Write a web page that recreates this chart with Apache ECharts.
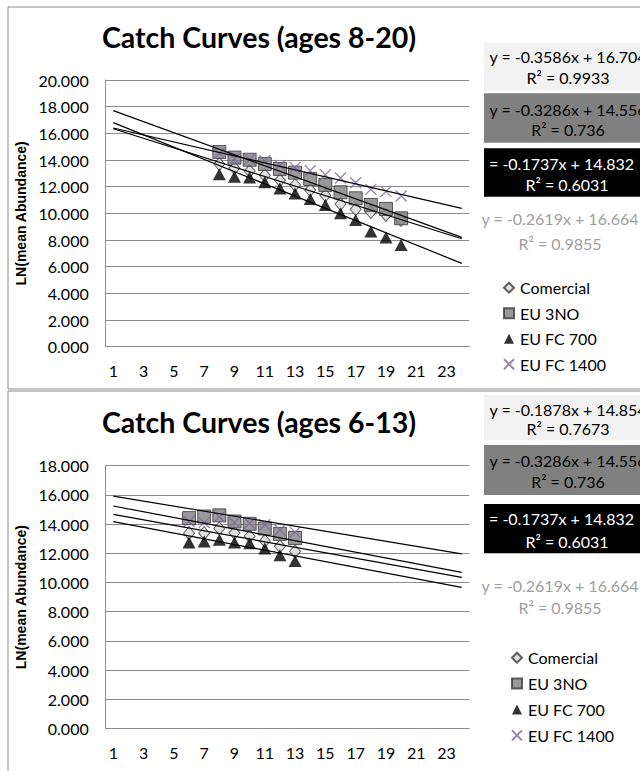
<!DOCTYPE html>
<html>
<head>
<meta charset="utf-8">
<script src="https://cdn.jsdelivr.net/npm/echarts@6/dist/echarts.min.js"></script>
<style>
html, body { margin: 0; padding: 0; background: #ffffff; }
#chart { width: 640px; height: 771px; }
</style>
</head>
<body>
<div id="chart"></div>
<script>
// Category axis: age classes 1..24
const xCategories = ['1','2','3','4','5','6','7','8','9','10','11','12','13','14','15','16','17','18','19','20','21','22','23','24'];
const seriesNames = ['Comercial', 'EU 3NO', 'EU FC 700', 'EU FC 1400'];

// Upper panel: ages 8-20, LN(mean abundance)
const agesTop = [8, 9, 10, 11, 12, 13, 14, 15, 16, 17, 18, 19, 20];
const comercialTop = [13.70, 13.40, 13.17, 12.85, 12.48, 12.13, 11.75, 11.35, 10.70, 10.30, 10.10, 9.88, 9.50];
const eu3noTop     = [14.60, 14.18, 14.02, 13.70, 13.33, 13.05, 12.58, 12.13, 11.58, 11.13, 10.63, 10.33, 9.63];
const fc700Top     = [12.93, 12.74, 12.68, 12.33, 11.86, 11.48, 11.08, 10.63, 10.00, 9.50, 8.63, 8.18, 7.63];
const fc1400Top    = [14.50, 14.10, 14.05, 13.95, 13.60, 13.45, 13.20, 12.90, 12.65, 12.30, 11.80, 11.65, 11.30];

// Lower panel: ages 6-13
const agesBottom = [6, 7, 8, 9, 10, 11, 12, 13];
const comercialBottom = [13.38, 13.38, 13.70, 13.40, 13.17, 12.85, 12.48, 12.13];
const eu3noBottom     = [14.41, 14.52, 14.60, 14.18, 14.02, 13.70, 13.33, 13.05];
const fc700Bottom     = [12.74, 12.81, 12.93, 12.74, 12.68, 12.33, 11.86, 11.48];
const fc1400Bottom    = [14.18, 14.10, 14.50, 14.10, 14.05, 13.95, 13.60, 13.45];

// Linear trendlines (slope, intercept), same order as seriesNames
const trendSlopesTop = [-0.3586, -0.4130, -0.4587, -0.2619];
const trendInterceptsTop = [16.704, 18.113, 17.259, 16.664];
const trendSlopesBottom = [-0.1878, -0.1974, -0.1957, -0.1720];
const trendInterceptsBottom = [14.854, 15.437, 14.366, 16.090];
const trendFrom = 1;
const trendTo = 24;

// Equation labels
const equationsTop = [
  ['y = -0.3586x + 16.704', 'R² = 0.9933'],
  ['y = -0.3286x + 14.556', 'R² = 0.736'],
  ['= -0.1737x + 14.832', 'R² = 0.6031'],
  ['y = -0.2619x + 16.664', 'R² = 0.9855']
];
const equationsBottom = [
  ['y = -0.1878x + 14.854', 'R² = 0.7673'],
  ['y = -0.3286x + 14.556', 'R² = 0.736'],
  ['= -0.1737x + 14.832', 'R² = 0.6031'],
  ['y = -0.2619x + 16.664', 'R² = 0.9855']
];

const titles = ['Catch Curves (ages 8-20)', 'Catch Curves (ages 6-13)'];
const yAxisName = 'LN(mean Abundance)';

const FONT = 'Lato, "Open Sans", sans-serif';
const GRID_COLOR = '#8c8c8c';
const TEXT_SIZE = 16;

const markerStyles = [
  { symbol: 'diamond', symbolSize: [11, 13], itemStyle: { color: '#d9d9d9', borderColor: '#3a3a3a', borderWidth: 1 } },
  { symbol: 'rect', symbolSize: 13, itemStyle: { color: '#808080', borderColor: '#3a3a3a', borderWidth: 1 } },
  { symbol: 'triangle', symbolSize: [13, 12], itemStyle: { color: '#000000' } },
  { symbol: 'path://M0,0L10,10M10,0L0,10', symbolSize: 11, itemStyle: { color: '#8064a2', borderColor: '#8064a2', borderWidth: 1.3 } }
];

function scatterSeries(panel, ages, valueLists) {
  return valueLists.map((vals, k) => Object.assign({
    name: seriesNames[k],
    type: 'scatter',
    xAxisIndex: panel,
    yAxisIndex: panel,
    data: ages.map((a, i) => [String(a), vals[i]]),
    z: 2 + k,
    animation: false
  }, markerStyles[k]));
}

function trendSeries(panel, slopes, intercepts) {
  return slopes.map((s, k) => ({
    name: seriesNames[k] + ' trend',
    type: 'line',
    xAxisIndex: panel,
    yAxisIndex: panel,
    data: [[String(trendFrom), s * trendFrom + intercepts[k]], [String(trendTo), s * trendTo + intercepts[k]]],
    symbol: 'none',
    silent: true,
    z: 10,
    lineStyle: { color: '#000000', width: 1.2 },
    animation: false
  }));
}

function equationGraphics(rows, boxes) {
  const fills = ['#f2f2f2', '#808080', '#000000', null];
  const textColors = ['#000000', '#000000', '#ffffff', '#a0a0a0'];
  const out = [];
  rows.forEach((r, k) => {
    const b = boxes[k];
    if (fills[k]) {
      out.push({ type: 'rect', shape: { x: 484, y: b.top, width: 170, height: b.h }, style: { fill: fills[k] }, z: 1 });
    }
    out.push({ type: 'text', x: b.lx != null ? b.lx : b.cx, y: b.l1,
      style: { text: r[0], fill: textColors[k], font: TEXT_SIZE + 'px ' + FONT, textAlign: b.lx != null ? 'left' : 'center', textVerticalAlign: 'middle' }, z: 2 });
    out.push({ type: 'text', x: b.cx, y: b.l2,
      style: { text: r[1], fill: textColors[k], font: TEXT_SIZE + 'px ' + FONT, textAlign: 'center', textVerticalAlign: 'middle' }, z: 2 });
  });
  return out;
}

const boxesTop = [
  { top: 42.7, h: 48, cx: 568, l1: 56.7, l2: 77.7 },
  { top: 93.3, h: 49.4, cx: 568, l1: 109, l2: 129.3 },
  { top: 148.3, h: 48.4, cx: 567, lx: 489, l1: 163.3, l2: 184.3 },
  { top: 0, h: 0, cx: 560, l1: 218.3, l2: 243.3 }
];
const boxesBottom = [
  { top: 395, h: 45, cx: 568, l1: 409.3, l2: 428.3 },
  { top: 445, h: 50, cx: 568, l1: 460, l2: 481.7 },
  { top: 504, h: 49.3, cx: 567, lx: 489, l1: 518.3, l2: 541.7 },
  { top: 0, h: 0, cx: 560, l1: 585, l2: 607.7 }
];

function yAxis(panel, max) {
  return {
    type: 'value', gridIndex: panel, min: 0, max: max, interval: 2,
    name: yAxisName, nameLocation: 'middle', nameGap: 71,
    nameTextStyle: { fontFamily: '"Liberation Sans", Arial, sans-serif', fontWeight: 'bold', fontSize: 14, color: '#000' },
    axisLine: { show: true, lineStyle: { color: GRID_COLOR, width: 1 } },
    axisTick: { show: false },
    splitLine: { lineStyle: { color: GRID_COLOR, width: 1 } },
    axisLabel: { formatter: v => v.toFixed(3), fontFamily: FONT, fontSize: TEXT_SIZE, color: '#000', margin: 17 }
  };
}
function xAxis(panel) {
  return {
    type: 'category', gridIndex: panel, data: xCategories, boundaryGap: true,
    axisLine: { show: true, lineStyle: { color: GRID_COLOR, width: 1 } },
    axisTick: { show: false },
    axisLabel: { interval: 1, fontFamily: FONT, fontSize: TEXT_SIZE, color: '#000', margin: 16 }
  };
}
function legend(left, top, gap) {
  return {
    data: seriesNames, orient: 'vertical', left: left, top: top,
    itemWidth: 10, itemHeight: 10, itemGap: gap, padding: 0,
    textStyle: { fontFamily: FONT, fontSize: TEXT_SIZE, color: '#000', lineHeight: 14, padding: [0, 0, 0, 1] },
    selectedMode: false
  };
}

const chart = echarts.init(document.getElementById('chart'), null, { renderer: 'svg' });
chart.setOption({
  backgroundColor: '#ffffff',
  animation: false,
  grid: [
    { left: 105.7, top: 80, width: 363.6, height: 266.7 },
    { left: 105.7, top: 465.7, width: 363.6, height: 262.8 }
  ],
  xAxis: [xAxis(0), xAxis(1)],
  yAxis: [yAxis(0, 20), yAxis(1, 18)],
  legend: [legend(503, 279.7, 9.5), legend(511, 649.7, 9.9)],
  series: [].concat(
    scatterSeries(0, agesTop, [comercialTop, eu3noTop, fc700Top, fc1400Top]),
    trendSeries(0, trendSlopesTop, trendInterceptsTop),
    scatterSeries(1, agesBottom, [comercialBottom, eu3noBottom, fc700Bottom, fc1400Bottom]),
    trendSeries(1, trendSlopesBottom, trendInterceptsBottom)
  ),
  graphic: [].concat(
    [
      { type: 'rect', shape: { x: 8, y: 7, width: 660, height: 382 }, style: { fill: null, stroke: '#8c8c8c', lineWidth: 1 }, z: 0 },
      { type: 'rect', shape: { x: 8, y: 391, width: 660, height: 400 }, style: { fill: null, stroke: '#8c8c8c', lineWidth: 1 }, z: 0 },
      { type: 'text', x: 259, y: 36.5, style: { text: titles[0], font: 'bold 28.5px ' + FONT, fill: '#000', textAlign: 'center', textVerticalAlign: 'middle' } },
      { type: 'text', x: 259, y: 422, style: { text: titles[1], font: 'bold 28.5px ' + FONT, fill: '#000', textAlign: 'center', textVerticalAlign: 'middle' } }
    ],
    equationGraphics(equationsTop, boxesTop),
    equationGraphics(equationsBottom, boxesBottom)
  )
});
</script>
</body>
</html>
